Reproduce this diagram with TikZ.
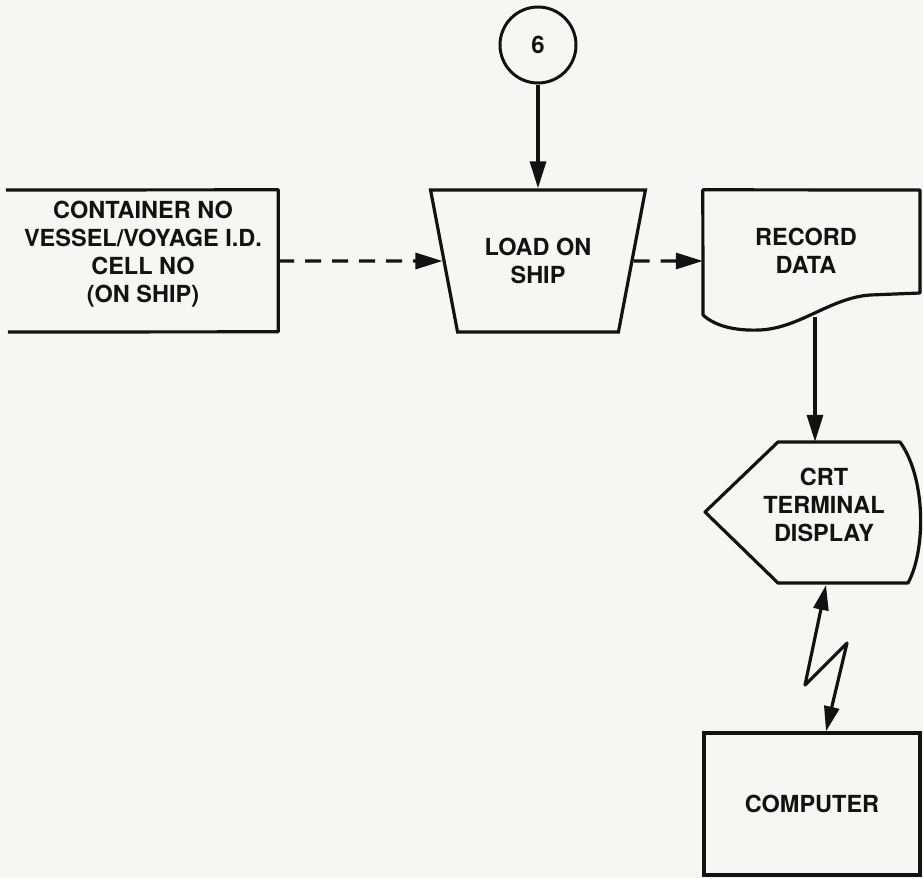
\documentclass[tikz,border=0pt]{standalone}
\usepackage{fontspec}
\setmainfont{TeX Gyre Heros}
\usepackage{tikz}
\usetikzlibrary{shapes.geometric, arrows.meta, positioning, calc}
\definecolor{cPaper}{RGB}{246,246,244}
\definecolor{cInk}{RGB}{18,18,18}
\tikzset{
	txtbox/.style={rectangle, align=center, text centered, inner sep=0pt, text=cInk, font=\bfseries\fontsize{23.5}{28}\selectfont},
	process/.style={rectangle, draw=cInk, line width=3.2pt, minimum width=216pt, minimum height=142pt, align=center, text=cInk, font=\bfseries\fontsize{23.5}{28}\selectfont},
	manop/.style={trapezium, trapezium angle=70, trapezium stretches=true, shape border rotate=180, draw=cInk, line width=3.2pt, minimum width=215pt, minimum height=142pt, align=center, text=cInk, font=\bfseries\fontsize{23.5}{28}\selectfont},
	connector/.style={circle, draw=cInk, line width=3pt, minimum size=76pt, inner sep=0pt, text=cInk, font=\bfseries\fontsize{24}{26}\selectfont},
	outline/.style={draw=cInk, line width=3.2pt, line join=round},
	flowarrow/.style={-{Triangle[length=27pt, width=16pt]}, line width=3.2pt, draw=cInk},
	dashflow/.style={flowarrow, dash pattern=on 16pt off 11pt},
	linkarrow/.style={{Triangle[length=25pt, width=15pt]}-{Triangle[length=25pt, width=15pt]}, line width=3.2pt, line join=round, draw=cInk},
}

\begin{document}
\begin{tikzpicture}[x=1pt, y=-1pt]
	\useasboundingbox[fill=cPaper] (0,0) rectangle (923,878);
	% blocks
	\node[connector] (six) at (538,45) {6};
	\node[txtbox, minimum width=270pt, minimum height=128pt] (cont) at (143,254) {CONTAINER NO\\ VESSEL/VOYAGE I.D.\\ CELL NO\\ (ON SHIP)};
	\node[manop] (load) at (538,261) {LOAD ON\\ SHIP};
	\node[txtbox, minimum width=206pt, minimum height=122pt] (rec) at (806,251) {RECORD\\ DATA};
	\node[txtbox, minimum height=126pt] (crt) at (824,505) {CRT\\ TERMINAL\\ DISPLAY};
	\node[process] (comp) at (812,804) {COMPUTER};
	\coordinate (recbot) at (815,317);
	\coordinate (crtbot) at (826,585);
	% outlines of the odd shapes
	\draw[outline] (6,190) -- (cont.north east) -- ++(0,142) -- (8,332);
	\draw[outline] (rec.north west) -- (920,190) -- (920,293) -- (870,295) .. controls (830,298) and (800,328) .. (760,330) .. controls (735,331) and (715,326) .. (703,315) -- cycle;
	\draw[outline] (705,512) -- (778,442) -- (900,442) .. controls (926,478) and (926,550) .. (908,583) -- (778,583) -- cycle;
	% flow
	\draw[flowarrow] (six) -- (load);
	\draw[dashflow] (cont.east |- load) -- (load);
	\draw[dashflow] (load) -- (load -| rec.west);
	\draw[flowarrow] (recbot) -- (recbot |- crt.north);
	\draw[linkarrow] (crtbot) -- ++(-21,100) -- ++(42,-42) -- (crtbot |- comp.north);
\end{tikzpicture}
\end{document}
